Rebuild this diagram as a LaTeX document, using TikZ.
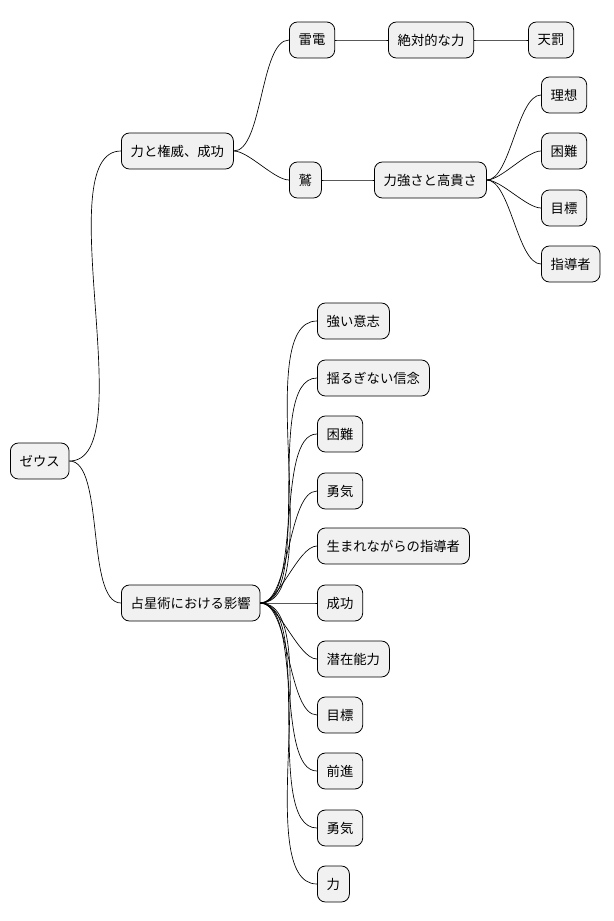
\documentclass[tikz,border=0pt]{standalone}
\usepackage{fontspec}
\setmainfont{Noto Sans CJK JP}
\usepackage{tikz}
\definecolor{boxfill}{HTML}{F1F1F1}

\begin{document}
\begin{tikzpicture}[x=1pt, y=-1pt,
  every node/.style={font=\fontsize{10}{12}\selectfont},
  topic/.style={draw=black, fill=boxfill, rounded corners=6pt, anchor=west,
    minimum height=27pt, inner xsep=7pt, line width=0.6pt},
  branch/.style={line width=0.5pt, out=0, in=180, looseness=0.6}]
   % Frame of the picture
   \useasboundingbox (0,0) rectangle (460.5,690.75);
    % Root and first level
    \node[topic] (zeus) at (7.5,345.75) {ゼウス};
    \node[topic] (power) at (90.75,113.25) {力と権威、成功};
    \node[topic] (astro) at (90.75,452.25) {占星術における影響};

    % Thunder branch
    \node[topic] (thunder) at (216.75,30) {雷電};
    \node[topic] (absolute) at (291,30) {絶対的な力};
    \node[topic] (wrath) at (396,30) {天罰};

    % Eagle branch
    \node[topic] (eagle) at (216.75,135) {鷲};
    \node[topic] (noble) at (280.5,135) {力強さと高貴さ};
    \node[topic] (ideal) at (405.75,71.25) {理想};
    \node[topic] (hard) at (405.75,113.25) {困難};
    \node[topic] (goal) at (405.75,156) {目標};
    \node[topic] (leader) at (405.75,198) {指導者};

    % Astrology children
    \node[topic] (a1) at (237.75,240.75) {強い意志};
    \node[topic] (a2) at (237.75,283.5) {揺るぎない信念};
    \node[topic] (a3) at (237.75,325.5) {困難};
    \node[topic] (a4) at (237.75,368.25) {勇気};
    \node[topic] (a5) at (237.75,409.5) {生まれながらの指導者};
    \node[topic] (a6) at (237.75,452.25) {成功};
    \node[topic] (a7) at (237.75,494.25) {潜在能力};
    \node[topic] (a8) at (237.75,536.25) {目標};
    \node[topic] (a9) at (237.75,578.25) {前進};
    \node[topic] (a10) at (237.75,621) {勇気};
    \node[topic] (a11) at (237.75,663) {力};

    % Connectors
    \draw[branch] (zeus.east) to (power.west);
    \draw[branch] (zeus.east) to (astro.west);
    \draw[branch] (power.east) to (thunder.west);
    \draw[branch] (power.east) to (eagle.west);
    \draw[branch] (thunder.east) to (absolute.west);
    \draw[branch] (absolute.east) to (wrath.west);
    \draw[branch] (eagle.east) to (noble.west);
    \foreach \c in {ideal,hard,goal,leader}
      \draw[branch] (noble.east) to (\c.west);
    \foreach \i in {1,...,11}
      \draw[branch] (astro.east) to (a\i.west);
\end{tikzpicture}
\end{document}
